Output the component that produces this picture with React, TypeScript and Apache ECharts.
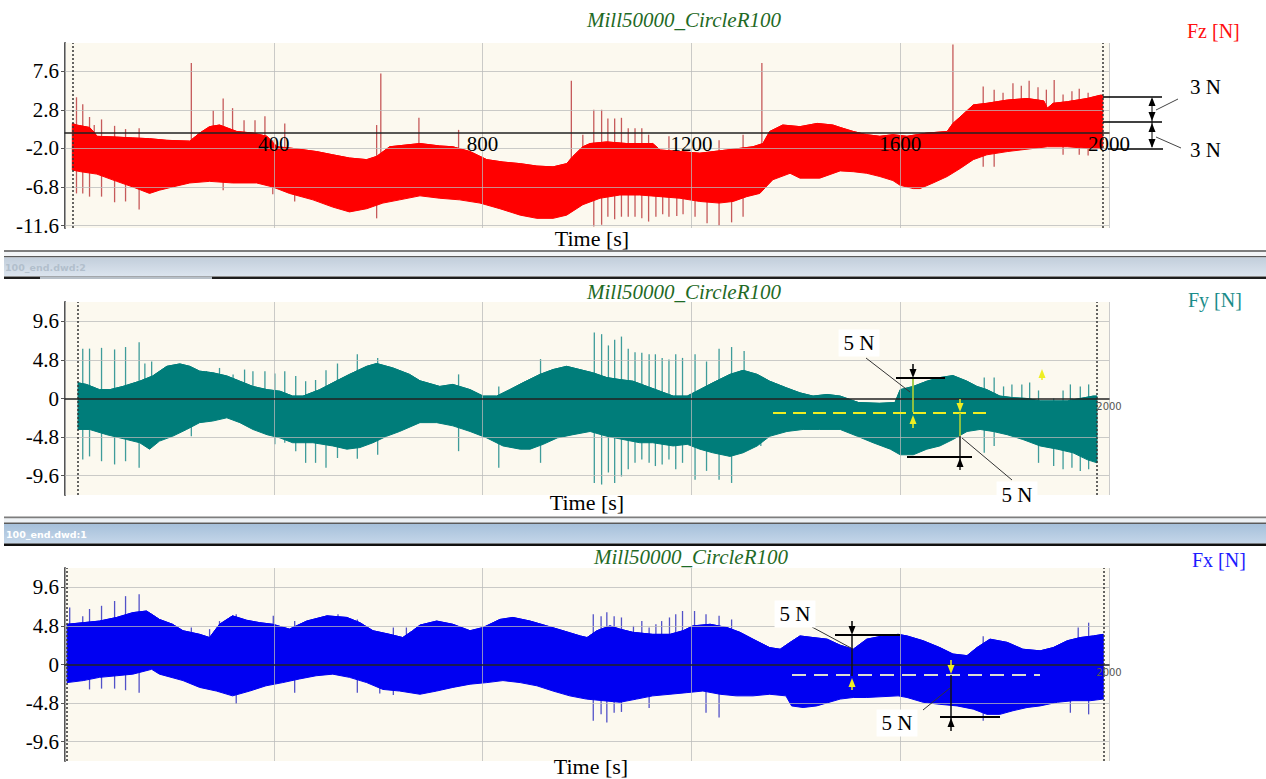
import React, { useEffect, useRef } from "react";
import * as echarts from "echarts";

// ---------------- DATA (time [s], force [N]) ----------------
const xTickLabels = [400, 800, 1200, 1600, 2000];
const fzYTicks = [-11.6, -6.8, -2.0, 2.8, 7.6];
const fyYTicks = [-9.6, -4.8, 0, 4.8, 9.6];
const fxYTicks = [-9.6, -4.8, 0, 4.8, 9.6];

const fzRange = [14, 1988];
const fyRange = [25, 1977];
const fxRange = [4, 1989];

const fzUpper = [[14,1.1],[22,0.9],[47,0.6],[56,0.0],[61,-0.5],[99,-0.6],[130,-0.7],[162,-0.8],[195,-1.0],[239,-1.1],[258,-0.1],[277,0.7],[296,0.9],[329,0.1],[360,-0.1],[387,-0.5],[406,-1.8],[436,-2.0],[482,-2.4],[513,-2.8],[545,-3.2],[578,-3.4],[597,-3.0],[622,-1.8],[680,-1.4],[718,-1.7],[743,-1.8],[776,-2.4],[808,-3.4],[839,-3.7],[872,-3.9],[904,-4.2],[935,-4.3],[961,-3.9],[973,-3.0],[992,-1.8],[1006,-1.4],[1038,-1.2],[1076,-1.4],[1126,-1.4],[1140,-2.2],[1178,-2.4],[1216,-2.6],[1268,-2.2],[1318,-1.8],[1337,-1.4],[1350,0.1],[1375,0.9],[1408,0.7],[1441,1.1],[1471,0.9],[1485,0.6],[1510,0.1],[1536,-0.3],[1561,-0.5],[1586,-0.3],[1613,-0.5],[1651,-0.1],[1690,0.1],[1701,1.1],[1720,2.2],[1740,3.4],[1766,3.6],[1805,4.0],[1843,4.2],[1875,3.9],[1882,3.0],[1893,3.6],[1920,3.8],[1958,4.2],[1983,4.6],[1988,4.6]];
const fzLower = [[14,-4.7],[30,-4.9],[61,-5.2],[99,-6.1],[130,-6.8],[162,-7.6],[181,-7.2],[206,-6.8],[239,-6.3],[277,-6.1],[321,-6.3],[367,-6.3],[398,-6.8],[430,-7.6],[475,-8.4],[513,-9.3],[545,-9.9],[578,-9.5],[609,-8.8],[641,-8.4],[680,-7.9],[718,-8.2],[756,-8.4],[795,-8.8],[833,-9.5],[872,-10.3],[904,-10.7],[935,-10.7],[961,-10.3],[992,-9.0],[1025,-8.2],[1063,-7.8],[1101,-7.8],[1140,-8.0],[1178,-8.2],[1216,-8.6],[1253,-8.8],[1280,-8.6],[1306,-8.0],[1331,-7.6],[1356,-5.9],[1389,-5.1],[1408,-5.7],[1446,-5.7],[1485,-4.8],[1510,-4.9],[1536,-5.1],[1561,-5.5],[1586,-6.0],[1600,-6.6],[1613,-6.8],[1625,-7.0],[1638,-7.0],[1663,-6.3],[1690,-5.5],[1715,-4.5],[1740,-3.4],[1766,-2.8],[1805,-2.4],[1843,-2.1],[1882,-1.8],[1920,-1.8],[1958,-2.0],[1988,-2.0]];
// spikes: [time, low end, high end]
const fzSpikes = [[22,-7.6,4.35],[34,-7.6,3.5],[47,-8.0,1.9],[56,-4.0,0.9],[70,-8.0,1.6],[95,-8.7,0.8],[116,-8.6,0.4],[142,-9.6,0.5],[242,-3.0,8.6],[284,-3.0,2.7],[303,-7.2,4.2],[321,-3.0,3.0],[343,-3.0,1.5],[364,-3.0,1.5],[383,-3.0,2.0],[398,-7.7,-1.0],[421,-4.0,1.1],[440,-8.6,-2.0],[597,-10.7,0.9],[605,-5.0,7.3],[678,-5.0,1.8],[754,-5.0,0.3],[970,-7.0,6.4],[992,-7.0,-0.3],[1013,-11.7,2.8],[1028,-11.5,2.8],[1040,-10.5,1.7],[1053,-10.8,1.7],[1066,-10.5,1.8],[1079,-10.5,0.5],[1092,-10.5,0.5],[1105,-10.7,0.5],[1118,-11.1,-0.3],[1132,-10.5,-3.0],[1145,-10.2,-3.0],[1157,-10.5,-0.5],[1172,-10.4,-3.0],[1184,-10.2,-3.0],[1207,-10.5,-3.0],[1230,-11.3,-3.0],[1253,-11.6,-1.0],[1277,-11.2,-3.0],[1299,-10.5,-0.3],[1335,-5.0,8.6],[1701,-5.0,10.9],[1759,-4.3,5.7],[1780,-4.3,5.3],[1797,-1.0,4.9],[1816,-1.0,6.1],[1832,-1.0,5.8],[1847,-1.0,6.4],[1864,-1.0,5.6],[1880,-1.0,5.3],[1895,-1.0,6.5],[1912,-2.8,4.7],[1929,-1.0,5.1],[1943,-2.8,5.4],[1960,-2.9,4.9]];

const fyUpper = [[25,1.95],[41,1.75],[66,1.1],[86,1.1],[111,1.5],[143,2.15],[168,2.8],[195,4.0],[220,4.3],[239,4.0],[258,3.4],[283,3.2],[310,2.8],[335,2.15],[360,1.5],[387,1.1],[412,0.9],[436,0.3],[456,0.3],[488,1.1],[513,1.95],[545,3.0],[578,4.0],[597,4.35],[628,3.8],[660,3.0],[680,2.2],[718,1.5],[743,1.75],[776,1.1],[801,0.3],[827,0.3],[852,1.1],[877,1.95],[910,3.0],[935,3.6],[961,4.0],[986,3.6],[1011,3.2],[1038,2.6],[1063,2.35],[1088,2.15],[1115,1.5],[1140,0.9],[1165,0.3],[1192,0.3],[1216,1.1],[1241,1.95],[1274,3.0],[1299,3.5],[1326,3.0],[1350,2.15],[1383,1.3],[1408,0.7],[1433,0.3],[1460,0.5],[1485,0.3],[1520,-0.5],[1560,-0.6],[1590,-0.5],[1600,1.1],[1625,1.5],[1651,2.15],[1676,2.6],[1701,2.85],[1728,2.15],[1747,1.5],[1766,1.1],[1791,0.3],[1816,0.1],[1843,0.0],[1868,-0.3],[1893,-0.3],[1920,-0.3],[1945,0.0],[1970,0.3],[1977,0.3]];
const fyLower = [[25,-3.85],[47,-3.85],[80,-4.5],[118,-5.1],[143,-5.5],[162,-6.3],[181,-5.3],[206,-4.7],[233,-3.85],[258,-3.0],[283,-2.8],[310,-2.4],[335,-3.0],[360,-3.85],[387,-4.5],[412,-4.9],[436,-5.5],[475,-5.5],[513,-5.9],[540,-6.3],[565,-6.1],[590,-5.5],[616,-4.7],[641,-4.1],[680,-3.0],[712,-3.0],[743,-3.4],[776,-4.1],[808,-4.9],[839,-5.9],[872,-6.3],[891,-6.3],[916,-5.7],[943,-4.9],[973,-4.5],[1006,-4.1],[1038,-4.7],[1069,-5.1],[1101,-5.5],[1126,-5.5],[1165,-5.9],[1192,-5.7],[1216,-6.3],[1241,-6.75],[1274,-7.2],[1299,-6.75],[1326,-5.9],[1350,-4.7],[1383,-4.1],[1414,-3.85],[1446,-3.85],[1485,-3.85],[1518,-4.7],[1548,-5.5],[1581,-6.3],[1600,-7.0],[1625,-7.0],[1651,-6.3],[1676,-5.9],[1701,-5.1],[1728,-4.1],[1753,-3.85],[1778,-4.1],[1805,-4.5],[1835,-5.1],[1868,-5.9],[1901,-6.3],[1931,-6.75],[1958,-7.6],[1977,-8.0]];
const fySpikes = [[34,-7.6,6.2],[47,-7.2,6.2],[70,-7.8,6.3],[95,-8.2,6.1],[116,-7.8,6.4],[142,-8.6,7.0],[153,-3.0,4.35],[166,-3.0,4.6],[242,-4.7,1.0],[271,-1.0,3.4],[296,-1.0,3.8],[322,-1.0,3.0],[344,-1.0,3.6],[360,-1.0,3.4],[383,-1.0,3.4],[402,-5.7,3.1],[421,-5.5,3.4],[442,-6.55,2.8],[461,-8.0,2.15],[480,-8.0,2.3],[500,-8.6,3.5],[522,-7.4,4.35],[560,-7.5,5.5],[599,-7.0,5.05],[754,-6.55,3.0],[831,-8.6,1.5],[911,-8.0,4.9],[1014,-10.5,8.2],[1028,-10.7,8.0],[1041,-9.2,6.6],[1053,-10.5,7.3],[1066,-9.7,7.7],[1079,-8.8,6.2],[1092,-8.0,5.75],[1105,-7.6,5.7],[1119,-8.0,5.5],[1131,-8.4,5.5],[1144,-8.2,5.05],[1157,-7.6,4.85],[1170,-8.8,5.5],[1183,-8.0,5.05],[1207,-10.1,5.5],[1229,-9.0,4.6],[1253,-10.1,6.2],[1277,-10.5,6.4],[1301,-6.0,5.9],[1333,-5.9,1.0],[1761,-6.75,2.6],[1780,-5.9,2.6],[1798,-2.0,1.5],[1814,-2.0,1.75],[1833,-2.0,1.75],[1848,-2.0,2.0],[1865,-8.0,1.0],[1894,-8.4,0.0],[1912,-8.8,1.0],[1926,-2.0,1.75],[1929,-8.6,0.0],[1945,-9.0,1.5],[1961,-8.8,1.75]];

const fxUpper = [[4,5.0],[35,5.2],[66,5.4],[99,5.85],[130,6.45],[156,6.65],[166,6.25],[181,5.6],[206,5.0],[226,4.2],[258,3.75],[277,3.35],[296,5.0],[321,6.05],[348,5.5],[373,5.2],[398,5.0],[430,4.4],[463,5.4],[502,6.05],[540,5.85],[565,5.2],[590,4.2],[622,3.75],[647,3.35],[666,4.2],[680,4.9],[712,5.4],[743,5.0],[776,4.2],[801,4.6],[833,5.6],[858,5.85],[891,5.4],[923,4.8],[954,4.2],[987,3.55],[1000,3.35],[1019,4.2],[1044,4.8],[1063,4.4],[1088,4.0],[1126,3.75],[1159,3.75],[1184,4.2],[1203,4.8],[1236,5.0],[1268,4.6],[1293,4.0],[1318,3.15],[1350,2.1],[1370,1.9],[1389,2.75],[1408,3.55],[1433,3.35],[1460,3.15],[1485,2.4],[1510,1.9],[1536,3.15],[1567,3.55],[1596,3.75],[1613,3.55],[1644,2.95],[1676,2.1],[1701,1.3],[1728,1.1],[1747,2.1],[1772,3.15],[1805,2.75],[1835,1.9],[1868,1.7],[1893,2.1],[1920,2.95],[1945,3.35],[1970,3.55],[1989,3.75]];
const fxLower = [[4,-2.25],[35,-2.0],[66,-1.6],[99,-1.4],[130,-1.2],[166,-0.6],[181,-1.2],[226,-2.0],[258,-2.85],[290,-3.3],[321,-3.9],[354,-3.3],[385,-2.65],[417,-2.25],[449,-1.8],[481,-1.4],[513,-1.2],[545,-1.6],[578,-2.25],[609,-3.1],[641,-3.3],[680,-3.7],[712,-3.3],[743,-2.85],[776,-2.45],[808,-2.25],[839,-2.0],[872,-2.25],[904,-2.65],[935,-3.3],[967,-3.9],[999,-4.3],[1031,-4.5],[1063,-4.7],[1095,-4.3],[1126,-3.9],[1159,-3.7],[1191,-3.5],[1222,-3.3],[1255,-3.7],[1286,-3.9],[1318,-3.9],[1350,-3.7],[1381,-3.9],[1392,-5.15],[1414,-5.35],[1440,-5.15],[1485,-4.3],[1510,-4.1],[1536,-4.1],[1596,-3.9],[1613,-4.1],[1644,-4.7],[1676,-4.95],[1709,-5.15],[1740,-5.55],[1766,-6.2],[1791,-6.2],[1816,-5.75],[1843,-5.35],[1868,-5.15],[1901,-4.7],[1931,-4.5],[1964,-4.5],[1989,-4.3]];
const fxSpikes = [[9,-2.0,7.1],[34,-2.0,6.0],[47,-3.1,6.9],[70,-3.0,7.3],[95,-3.0,7.9],[116,-3.2,8.5],[142,-3.5,8.75],[242,0,4.6],[277,0,4.4],[296,0,5.4],[328,-4.9,6.25],[399,0,6.05],[440,-3.5,5.4],[523,0,6.25],[560,-3.5,5.6],[603,-3.6,1.0],[629,-3.8,4.6],[654,0,4.6],[1012,-7.0,6.25],[1027,-6.2,6.0],[1038,-7.2,6.5],[1052,-6.0,6.0],[1066,-5.9,5.85],[1089,0,4.8],[1105,0,5.4],[1119,-5.4,4.6],[1132,0,5.0],[1143,0,5.4],[1158,0,5.85],[1170,0,6.25],[1183,0,6.65],[1206,0,6.65],[1228,-6.0,6.25],[1253,-6.6,6.05],[1277,0,5.6],[1759,-7.0,3.5],[1926,-6.0,0],[1941,0,4.6],[1961,-6.2,5.2]];

// ---------------- STYLE ----------------
const SERIF = '"Liberation Serif", "Times New Roman", serif';
const SANS = '"DejaVu Sans", Arial, sans-serif';
const BEIGE = "#fcf9ef";
const GRIDC = "rgba(185,185,185,0.75)";

const panels = [
  { top: 43, height: 185, min: -11.9, max: 11.1, ticks: fzYTicks, range: fzRange, upper: fzUpper, lower: fzLower, spikes: fzSpikes, band: "#ff0000", spike: "#c65a5a", mainLabels: true },
  { top: 302, height: 193, min: -12, max: 12, ticks: fyYTicks, range: fyRange, upper: fyUpper, lower: fyLower, spikes: fySpikes, band: "#007d7a", spike: "#3f9c9a", mainLabels: false },
  { top: 568, height: 193, min: -12, max: 12, ticks: fxYTicks, range: fxRange, upper: fxUpper, lower: fxLower, spikes: fxSpikes, band: "#0000f2", spike: "#5252c8", mainLabels: false },
];

function buildOption() {
  const grid: any[] = [];
  const xAxis: any[] = [];
  const yAxis: any[] = [];
  const series: any[] = [];
  panels.forEach((p, i) => {
    grid.push({ left: 65, width: 1044, top: p.top, height: p.height, show: true, backgroundColor: BEIGE, borderWidth: 0 });
    // place the time axis (line + labels) at force = 0
    const zeroOffset = -(p.height * (0 - p.min)) / (p.max - p.min);
    xAxis.push({
      gridIndex: i, type: "value", min: 0, max: 2000, interval: 400, z: 10,
      position: "bottom", offset: zeroOffset,
      axisLine: { show: true, onZero: false, lineStyle: { color: "#222", width: 1.5 } },
      axisTick: { show: false },
      axisLabel: p.mainLabels
        ? { showMinLabel: false, fontSize: 21, fontFamily: SERIF, color: "#000", margin: 1,
            formatter: (v: number) => (xTickLabels.indexOf(v) >= 0 ? String(v) : "") }
        : { showMinLabel: false, fontSize: 10, fontFamily: SANS, color: "#555", margin: 3,
            formatter: (v: number) => (v === 2000 ? "2000" : "") },
      splitLine: { show: true, lineStyle: { color: GRIDC, width: 1 } },
    });
    yAxis.push({
      gridIndex: i, type: "value", min: p.min, max: p.max,
      axisLine: { show: true, onZero: false, lineStyle: { color: "#555", width: 2 } },
      axisTick: { show: true, length: 4, customValues: p.ticks, lineStyle: { color: "#555" } },
      axisLabel: { customValues: p.ticks, fontSize: 21, fontFamily: SERIF, color: "#000", margin: 6,
        formatter: (v: number) => (Math.abs(v) < 1e-9 ? "0" : v.toFixed(1)) },
      splitLine: { show: false },
    });
    // spikes (drawn underneath the band)
    series.push({
      type: "custom", xAxisIndex: i, yAxisIndex: i, z: 1, silent: true,
      data: p.spikes, encode: { x: 0, y: [1, 2] },
      renderItem: (params: any, api: any) => {
        const a = api.coord([api.value(0), api.value(1)]);
        const b = api.coord([api.value(0), api.value(2)]);
        return { type: "line", shape: { x1: a[0], y1: a[1], x2: b[0], y2: b[1] }, style: { stroke: p.spike, lineWidth: 1.3 } };
      },
    });
    // band polygon between envelopes
    series.push({
      type: "custom", xAxisIndex: i, yAxisIndex: i, z: 2, silent: true,
      data: [[1000, 0]],
      renderItem: (params: any, api: any) => {
        if (params.dataIndex !== 0) return null;
        const pts: number[][] = [];
        p.upper.forEach((d) => pts.push(api.coord(d)));
        for (let k = p.lower.length - 1; k >= 0; k--) pts.push(api.coord(p.lower[k]));
        return { type: "polygon", shape: { points: pts }, style: { fill: p.band, stroke: p.band, lineWidth: 1 } };
      },
    });
    // upper envelope edge line, hosting grid lines and record boundary marks
    const gl = p.ticks.filter((t) => Math.abs(t) > 1e-9).map((t) => ({ yAxis: t, lineStyle: { color: GRIDC, width: 1, type: "solid" } }));
    series.push({
      type: "line", xAxisIndex: i, yAxisIndex: i, z: 3, silent: true, data: p.upper,
      symbol: "none", lineStyle: { color: p.band, width: 1 },
      markLine: {
        silent: true, symbol: ["none", "none"], label: { show: false }, animation: false,
        data: [
          ...gl,
          { xAxis: p.range[0], lineStyle: { color: "#333", width: 1.5, type: [2, 2] } },
          { xAxis: p.range[1], lineStyle: { color: "#333", width: 1.5, type: [2, 2] } },
        ],
      },
    });
  });

  // ---------- overlay graphics (texts, separators, annotations) ----------
  const g: any[] = [];
  const Z = 100;
  const line = (x1: number, y1: number, x2: number, y2: number, stroke = "#000", w = 1.5, dash?: number[]) =>
    g.push({ type: "line", z: Z, silent: true, shape: { x1, y1, x2, y2 }, style: { stroke, lineWidth: w, lineDash: dash } });
  const tri = (x: number, y: number, dir: "up" | "down", fill = "#000") =>
    g.push({ type: "polygon", z: Z, silent: true, shape: { points: dir === "up" ? [[x, y], [x - 3.5, y + 9], [x + 3.5, y + 9]] : [[x, y], [x - 3.5, y - 9], [x + 3.5, y - 9]] }, style: { fill } });
  const text = (x: number, y: number, s: string, font: string, fill: string, align = "center", bg?: string) =>
    g.push({ type: "text", z: Z + 1, silent: true, x, y, style: { text: s, font, fill, align, verticalAlign: "middle", textAlign: align, textVerticalAlign: "middle", backgroundColor: bg, padding: bg ? [3, 5] : 0 } });
  const rect = (x: number, y: number, w: number, h: number, fill: any) =>
    g.push({ type: "rect", z: Z, silent: true, shape: { x, y, width: w, height: h }, style: { fill } });

  // titles and labels
  const titleFont = `italic 21px ${SERIF}`;
  text(684, 20, "Mill50000_CircleR100", titleFont, "#1f6a25");
  text(684, 292, "Mill50000_CircleR100", titleFont, "#1f6a25");
  text(691, 557, "Mill50000_CircleR100", titleFont, "#1f6a25");
  text(1187, 31, "Fz [N]", `20px ${SERIF}`, "#ff1010", "left");
  text(1188, 300, "Fy [N]", `20px ${SERIF}`, "#1a8c8a", "left");
  text(1192, 560, "Fx [N]", `20px ${SERIF}`, "#1c1cff", "left");
  text(592, 238, "Time [s]", `22px ${SERIF}`, "#000");
  text(587, 502, "Time [s]", `22px ${SERIF}`, "#000");
  text(591, 766, "Time [s]", `22px ${SERIF}`, "#000");

  // separators
  const grad1 = new echarts.graphic.LinearGradient(0, 0, 0, 1, [{ offset: 0, color: "#c2cedb" }, { offset: 1, color: "#dbe4ee" }]);
  rect(4, 250, 1262, 2, "#7d7d7d");
  rect(4, 252, 1262, 4, "#f3f5f7");
  rect(4, 256, 1262, 1.5, "#5a5a5a");
  rect(4, 257.5, 1262, 18.5, grad1);
  rect(4, 276.5, 1262, 2.5, "#1e1e1e");
  rect(40, 276.5, 172, 2.5, "#b8c0c8");
  g.push({ type: "text", z: Z + 1, silent: true, x: 5, y: 267, style: { text: "100_end.dwd:2", font: `bold 9.5px ${SANS}`, fill: "#b2bfcc", verticalAlign: "middle", textVerticalAlign: "middle" } });
  const grad2 = new echarts.graphic.LinearGradient(0, 0, 0, 1, [{ offset: 0, color: "#a6c0da" }, { offset: 1, color: "#c4d6e9" }]);
  rect(4, 516.5, 1262, 2, "#7d7d7d");
  rect(4, 518.5, 1262, 4, "#eef2f5");
  rect(4, 522.5, 1262, 1.5, "#5a5a5a");
  rect(4, 524, 1262, 19.5, grad2);
  rect(4, 543.5, 1262, 2.5, "#111");
  g.push({ type: "text", z: Z + 1, silent: true, x: 6, y: 534, style: { text: "100_end.dwd:1", font: `bold 9.5px ${SANS}`, fill: "#ffffff", verticalAlign: "middle", textVerticalAlign: "middle" } });

  // Fz annotation (3 N / 3 N)
  line(1103, 97, 1162, 97);
  line(1103, 122, 1162, 122);
  line(1108, 149, 1163, 149);
  line(1152, 99, 1152, 147, "#000", 1);
  tri(1152, 97, "up"); tri(1152, 121, "down"); tri(1152, 123, "up"); tri(1152, 148, "down");
  line(1156, 110, 1178, 99, "#444", 1);
  line(1156, 137, 1181, 148, "#444", 1);
  text(1190, 87, "3 N", `21px ${SERIF}`, "#000", "left");
  text(1190, 150, "3 N", `21px ${SERIF}`, "#000", "left");

  // Fy annotation
  const YEL = "#eeee22";
  const GRN = "#9cc83c";
  line(773, 413, 990, 413, YEL, 2.2, [13, 7]);
  text(859, 343, "5 N", `21px ${SERIF}`, "#000", "center", "#ffffff");
  line(866, 358, 910, 392, "#333", 1);
  line(896, 378, 945, 378, "#000", 1.8);
  line(913, 364, 913, 372, "#000", 1.5);
  tri(913, 378, "down");
  line(913, 379, 913, 412, GRN, 1.8);
  tri(913, 415, "up", YEL);
  line(913, 423, 913, 428, YEL, 1.5);
  line(960, 399, 960, 406, YEL, 1.5);
  tri(960, 412, "down", YEL);
  line(960, 413, 960, 436, GRN, 1.8);
  line(960, 436, 960, 470, "#222", 1.5);
  line(907, 457, 972, 457, "#000", 1.8);
  tri(960, 458, "up");
  line(962, 438, 1012, 480, "#333", 1);
  text(1017, 495, "5 N", `21px ${SERIF}`, "#000", "center", "#ffffff");
  tri(1042, 369, "up", YEL);
  line(1042, 377, 1042, 380, YEL, 1.5);

  // Fx annotation
  line(792, 675, 1040, 675, "#dcdcd2", 2.2, [14, 8]);
  text(795, 614, "5 N", `21px ${SERIF}`, "#000", "center", "#ffffff");
  line(812, 627, 851, 648, "#333", 1);
  line(835, 635, 900, 635, "#000", 1.8);
  line(852, 621, 852, 628, "#000", 1.5);
  tri(852, 635, "down");
  line(852, 636, 852, 676, "#111", 1.5);
  tri(852, 678, "up", YEL);
  line(852, 686, 852, 690, YEL, 1.5);
  line(951, 660, 951, 667, YEL, 1.5);
  tri(951, 674, "down", YEL);
  line(951, 675, 951, 731, "#111", 1.5);
  line(940, 717, 1000, 717, "#000", 1.8);
  tri(951, 718, "up");
  line(923, 710, 950, 688, "#333", 1);
  text(897, 723, "5 N", `21px ${SERIF}`, "#000", "center", "#ffffff");

  return { animation: false, backgroundColor: "#ffffff", grid, xAxis, yAxis, series, graphic: { elements: g } };
}

export default function App() {
  const ref = useRef<HTMLDivElement>(null);
  useEffect(() => {
    if (!ref.current) return;
    const chart = echarts.init(ref.current, null, { renderer: "svg" });
    chart.setOption(buildOption() as any);
    return () => chart.dispose();
  }, []);
  return <div ref={ref} style={{ position: "fixed", left: 0, top: 0, width: 1266, height: 779, background: "#fff" }} />;
}
